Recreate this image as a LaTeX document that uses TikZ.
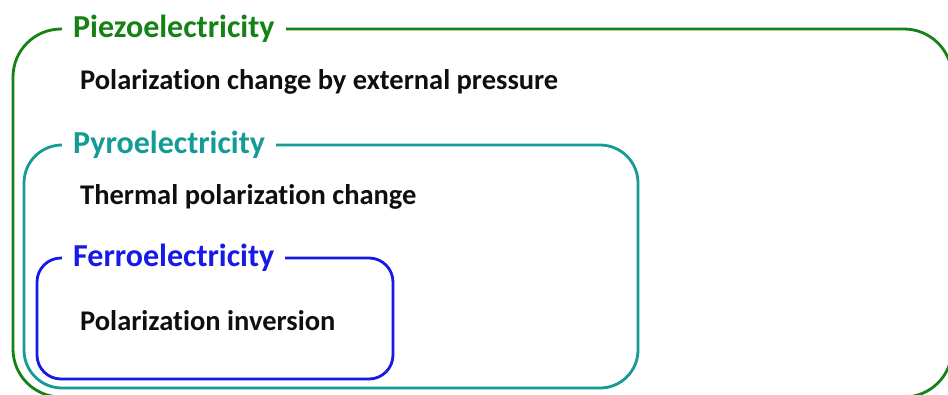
\documentclass[tikz,border=0pt]{standalone}
\usepackage{fontspec}
\setmainfont[Ligatures={NoCommon,NoRequired,NoContextual}]{Carlito}
\definecolor{piezo}{RGB}{20,130,20}
\definecolor{pyro}{RGB}{20,155,150}
\definecolor{ferro}{RGB}{25,25,230}
\definecolor{bodytext}{RGB}{15,15,15}
\begin{document}
\begin{tikzpicture}[x=1pt,y=-1pt,
  frame/.style={line width=2.8pt},
  title/.style={anchor=west,fill=white,inner xsep=11pt,inner ysep=2pt,font=\fontsize{32}{36}\selectfont\bfseries},
  body/.style={anchor=west,inner sep=0pt,text=bodytext,font=\fontsize{28.5}{32}\selectfont\bfseries}]
\useasboundingbox[fill=white] (0,0) rectangle (948,394);
% frames
\draw[frame,piezo,rounded corners=48pt] (13,29) rectangle (952,397);
\draw[frame,pyro,rounded corners=38pt] (24,145) rectangle (638,388);
\draw[frame,ferro,rounded corners=24pt] (37,258) rectangle (393,379);
% titles
\node[title,text=piezo] (piezo) at (62,29) {Piezoelectricity};
\node[title,text=pyro] (pyro) at (62,145) {Pyroelectricity};
\node[title,text=ferro] (ferro) at (62,258) {Ferroelectricity};
% descriptions
\node[body] (piezotext) at (80,82) {Polarization change by external pressure};
\node[body] (pyrotext) at (80,197) {Thermal polarization change};
\node[body] (ferrotext) at (80,321) {Polarization inversion};
\end{tikzpicture}
\end{document}
